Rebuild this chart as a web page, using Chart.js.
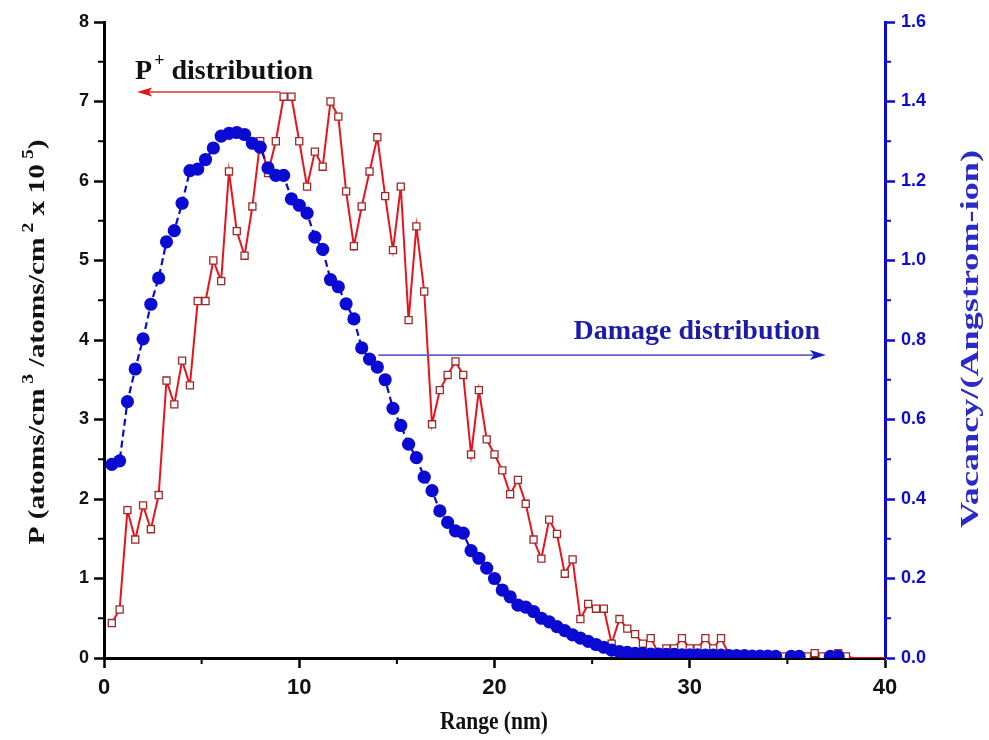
<!DOCTYPE html>
<html><head><meta charset="utf-8">
<script src="https://cdn.jsdelivr.net/npm/chart.js@4/dist/chart.umd.min.js"></script>
<style>html,body{margin:0;padding:0;background:#fff}#wrap{width:989px;height:740px}canvas{display:block}</style>
</head><body><div id="wrap"><canvas id="c" width="989" height="740"></canvas></div>
<script>
// ---- data ----
const rangeNm = [0.4,0.8,1.2,1.6,2.0,2.4,2.8,3.2,3.6,4.0,
  4.4,4.8,5.2,5.6,6.0,6.4,6.8,7.2,7.6,8.0,
  8.4,8.8,9.2,9.6,10.0,10.4,10.8,11.2,11.6,12.0,
  12.4,12.8,13.2,13.6,14.0,14.4,14.8,15.2,15.6,16.0,
  16.4,16.8,17.2,17.6,18.0,18.4,18.8,19.2,19.6,20.0,
  20.4,20.8,21.2,21.6,22.0,22.4,22.8,23.2,23.6,24.0,
  24.4,24.8,25.2,25.6,26.0,26.4,26.8,27.2,27.6,28.0,
  28.4,28.8,29.2,29.6,30.0,30.4,30.8,31.2,31.6,32.0,
  32.4,32.8,33.2,33.6,34.0,34.4,34.8,35.2,35.6,36.0,
  36.4,36.8,37.2,37.6,38.0,38.4,38.8,39.2,39.6,40.0];
const pDistribution = [0.44,0.61,1.86,1.49,1.92,1.62,2.05,3.49,3.19,3.74,
  3.43,4.49,4.49,5.00,4.74,6.12,5.37,5.06,5.68,6.50,
  6.10,6.50,7.06,7.06,6.50,5.93,6.37,6.18,7.00,6.81,
  5.87,5.18,5.68,6.12,6.55,5.81,5.13,5.93,4.25,5.43,
  4.61,2.94,3.37,3.56,3.73,3.56,2.56,3.37,2.75,2.56,
  2.36,2.06,2.24,1.94,1.49,1.25,1.74,1.56,1.06,1.24,
  0.49,0.68,0.62,0.62,0.18,0.49,0.37,0.30,0.18,0.25,
  0.06,0.12,0.12,0.25,0.12,0.12,0.25,0.12,0.25,0.05,
  0.03,0.03,0.03,0.02,0.03,0.02,0.02,0.03,0.02,0.02,
  0.06,0.02,0.02,0.06,0.02,0,0,0,0,0];
const vacancy = [0.487,0.496,0.645,0.727,0.803,0.890,0.956,1.047,1.075,1.144,
  1.226,1.230,1.254,1.283,1.313,1.320,1.322,1.317,1.295,1.285,
  1.233,1.214,1.214,1.155,1.139,1.119,1.059,1.028,0.952,0.934,
  0.891,0.853,0.780,0.752,0.732,0.700,0.628,0.585,0.538,0.504,
  0.455,0.421,0.370,0.341,0.320,0.314,0.270,0.251,0.226,0.200,
  0.171,0.154,0.133,0.128,0.117,0.100,0.091,0.079,0.069,0.058,
  0.050,0.042,0.034,0.027,0.020,0.016,0.014,0.012,0.011,0.010,
  0.010,0.009,0.009,0.008,0.008,0.008,0.007,0.007,0.007,0.006,
  0.006,0.006,0.005,0.005,0.005,0.004,null,0.004,0.004,null,
  null,null,0.004,0.004];
const xMinorTicks = [5,15,25,35];
const yMinorTicks = [0.5,1.5,2.5,3.5,4.5,5.5,6.5,7.5];
const y2MinorTicks = [0.1,0.3,0.5,0.7,0.9,1.1,1.3,1.5];

const BLUE = '#0a0ad2';
const RED = '#e8141c';

const bgPlugin = {
  id:'bg',
  beforeDraw(chart){const c=chart.ctx;c.save();c.fillStyle='#fff';c.fillRect(0,0,chart.width,chart.height);c.restore();}
};

function seg(ctx,x1,y1,x2,y2){ctx.beginPath();ctx.moveTo(x1,y1);ctx.lineTo(x2,y2);ctx.stroke();}

const minorPlugin = {
  id:'minor',
  afterDraw(chart){
    const ctx=chart.ctx, a=chart.chartArea, s=chart.scales;
    ctx.save(); ctx.lineWidth=2;
    ctx.strokeStyle='#000';
    xMinorTicks.forEach(v=>{const p=s.x.getPixelForValue(v);seg(ctx,p,a.bottom,p,a.bottom+6);});
    yMinorTicks.forEach(v=>{const p=s.y.getPixelForValue(v);seg(ctx,a.left,p,a.left-6,p);});
    ctx.strokeStyle=BLUE;
    y2MinorTicks.forEach(v=>{const p=s.y2.getPixelForValue(v);seg(ctx,a.right,p,a.right+6,p);});
    ctx.restore();
  }
};

function drawParts(ctx, parts, size, supSize, rise){
  let w=0; const ws=[];
  parts.forEach(p=>{ctx.font='bold '+(p.sup?supSize:size)+'px "Liberation Serif"';const m=ctx.measureText(p.t).width;ws.push(m);w+=m;});
  return {w, draw(x0,y0){let x=x0;parts.forEach((p,i)=>{ctx.font='bold '+(p.sup?supSize:size)+'px "Liberation Serif"';ctx.fillText(p.t,x,y0-(p.sup?rise:0));x+=ws[i];});}};
}

const titlePlugin = {
  id:'titles',
  afterDraw(chart){
    const ctx=chart.ctx;
    ctx.save();
    ctx.textBaseline='alphabetic'; ctx.textAlign='left';
    // left title
    ctx.fillStyle='#111';
    let parts=[{t:'P (atoms/cm'},{t:' 3',sup:true},{t:' /atoms/cm'},{t:' 2',sup:true},{t:' x 10'},{t:' 5',sup:true},{t:')'}];
    let r=drawParts(ctx,parts,24,16,11);
    let sx=405/r.w;
    ctx.save(); ctx.translate(44,342); ctx.rotate(-Math.PI/2); ctx.scale(sx,1); r.draw(-r.w/2,0); ctx.restore();
    // right title
    ctx.fillStyle='#2a2ac8';
    parts=[{t:'Vacancy/(Angstrom-ion)'}];
    r=drawParts(ctx,parts,26,18,10);
    sx=378/r.w;
    ctx.save(); ctx.translate(978,339); ctx.rotate(-Math.PI/2); ctx.scale(sx,1); r.draw(-r.w/2,0); ctx.restore();
    // bottom title
    ctx.fillStyle='#111';
    parts=[{t:'Range (nm)'}];
    r=drawParts(ctx,parts,26,18,10);
    sx=108/r.w;
    ctx.save(); ctx.translate(494,729); ctx.scale(sx,1); r.draw(-r.w/2,0); ctx.restore();
    ctx.restore();
  }
};

const annotPlugin = {
  id:'annot',
  afterDatasetsDraw(chart){
    const ctx=chart.ctx, s=chart.scales;
    const X=v=>s.x.getPixelForValue(v), Y=v=>s.y.getPixelForValue(v);
    ctx.save();
    let y=Y(7.12), x1=X(9.03), x2=X(1.69);
    ctx.strokeStyle='#e03030'; ctx.lineWidth=1.6; seg(ctx,x1,y,x2+12,y);
    ctx.fillStyle='#e01818'; ctx.beginPath(); ctx.moveTo(x2,y); ctx.lineTo(x2+15,y-4.5); ctx.lineTo(x2+12,y); ctx.lineTo(x2+15,y+4.5); ctx.closePath(); ctx.fill();
    y=Y(3.81); x1=X(14.05); x2=X(36.97);
    ctx.strokeStyle='#6464c8'; ctx.lineWidth=1.8; seg(ctx,x1,y,x2-12,y);
    ctx.fillStyle='#1a1ac0'; ctx.beginPath(); ctx.moveTo(x2,y); ctx.lineTo(x2-16,y-5); ctx.lineTo(x2-12,y); ctx.lineTo(x2-16,y+5); ctx.closePath(); ctx.fill();
    ctx.textBaseline='alphabetic'; ctx.textAlign='left';
    ctx.fillStyle='#111';
    let px=X(1.59), py=Y(7.28);
    ctx.font='bold 28px "Liberation Serif"'; ctx.fillText('P',px,py); px+=ctx.measureText('P').width+2;
    ctx.font='bold 18px "Liberation Serif"'; ctx.fillText('+',px,py-13); px+=ctx.measureText('+').width;
    ctx.font='bold 28px "Liberation Serif"'; ctx.fillText(' distribution',px,py);
    ctx.fillStyle='#1c1ca8';
    ctx.fillText('Damage distribution',X(24.05),Y(4.01));
    ctx.restore();
  }
};

const tickFontY = {family:'"Liberation Sans", Arial, sans-serif', weight:'bold', size:18};
new Chart(document.getElementById('c'), {
  type:'line',
  data:{datasets:[
    {label:'Damage distribution', yAxisID:'y2', order:0,
     data: vacancy.map((v,i)=>({x:rangeNm[i], y:v})),
     borderColor:BLUE, borderWidth:2.2, borderDash:[7,4], spanGaps:false,
     pointStyle:'circle', pointRadius:6.6, pointBackgroundColor:BLUE, pointBorderColor:BLUE, pointBorderWidth:0, tension:0},
    {label:'P+ distribution', yAxisID:'y', order:1,
     data: pDistribution.map((v,i)=>({x:rangeNm[i], y:v})),
     borderColor:RED, borderWidth:2, tension:0,
     pointStyle:'rect', pointRadius:c=>(c.raw && c.raw.y>0)?5:0, pointBackgroundColor:'#fff', pointBorderColor:'#a02828', pointBorderWidth:1.3}
  ]},
  options:{
    responsive:false, animation:false, devicePixelRatio:1,
    layout:{padding:{top:22,left:0,right:0,bottom:0}},
    plugins:{legend:{display:false}, tooltip:{enabled:false}},
    scales:{
      x:{type:'linear', position:'bottom', min:0, max:40,
        afterFit(s){s.height=82;},
        ticks:{stepSize:10, color:'#111', padding:7, maxRotation:0,
          font:{family:'"Liberation Sans Narrow","Liberation Sans", Arial, sans-serif', weight:'bold', size:22}},
        grid:{drawOnChartArea:false, drawTicks:true, tickLength:10, tickWidth:2.5, tickColor:'#000'},
        border:{display:true, color:'#000', width:3}},
      y:{type:'linear', position:'left', min:0, max:8,
        afterFit(s){s.width=104;},
        ticks:{stepSize:1, color:'#111', padding:5, font:tickFontY},
        grid:{drawOnChartArea:false, drawTicks:true, tickLength:10, tickWidth:2.5, tickColor:'#000'},
        border:{display:true, color:'#000', width:3}},
      y2:{type:'linear', position:'right', min:0, max:1.6,
        afterFit(s){s.width=104;},
        ticks:{stepSize:0.2, color:BLUE, padding:6, font:tickFontY, callback:v=>v.toFixed(1)},
        grid:{drawOnChartArea:false, drawTicks:true, tickLength:10, tickWidth:2.5, tickColor:BLUE},
        border:{display:true, color:BLUE, width:3}}
    }
  },
  plugins:[bgPlugin, minorPlugin, titlePlugin, annotPlugin]
});
</script></body></html>
